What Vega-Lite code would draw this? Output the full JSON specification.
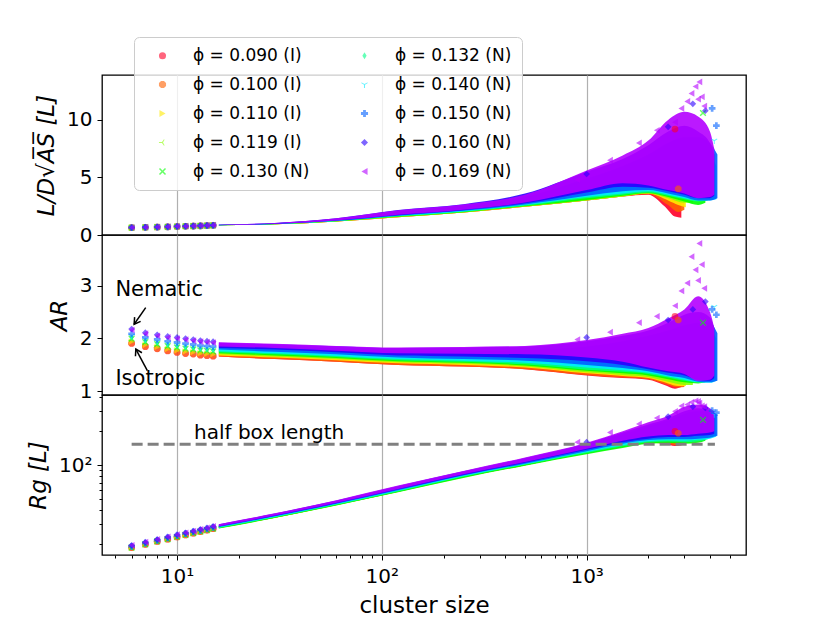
{
"$schema": "https://vega.github.io/schema/vega-lite/v6.json",
"background": "white",
"padding": {"left": 26, "top": 36, "right": 5, "bottom": 5},
"bounds": "flush",
"config": {
  "font": "DejaVu Sans",
  "view": {"stroke": "black", "strokeWidth": 1.3},
  "axis": {"labelFontSize": 20, "titleFontSize": 23, "titleFontWeight": "normal", "labelColor": "black", "titleColor": "black", "tickColor": "black", "tickWidth": 1, "domain": false, "grid": false, "labelPadding": 5, "titlePadding": 8, "tickSize": 5, "labelFont": "DejaVu Sans", "titleFont": "DejaVu Sans", "labelOverlap": false},
  "legend": {"orient": "none", "legendX": 32, "legendY": -38, "columns": 2, "labelFontSize": 17, "labelFont": "DejaVu Sans", "labelColor": "black", "symbolSize": 50, "symbolOpacity": 0.6, "rowPadding": 11, "columnPadding": 36, "padding": 10, "fillColor": "rgba(255,255,255,0.8)", "strokeColor": "#cccccc", "cornerRadius": 5, "labelOffset": 22, "symbolOffset": 10, "labelLimit": 0}
},
"datasets": {
"bands": [
{"p":"0.090 (I)","n":16,"l1":0.84,"l2":0.86,"a1":1.66,"a2":1.71,"r1":27.7,"r2":28.7},
{"p":"0.090 (I)","n":30,"l1":0.93,"l2":0.975,"a1":1.61,"a2":1.67,"r1":34.3,"r2":35.8},
{"p":"0.090 (I)","n":60,"l1":1.18,"l2":1.29,"a1":1.56,"a2":1.63,"r1":44.4,"r2":46.5},
{"p":"0.090 (I)","n":120,"l1":1.55,"l2":1.76,"a1":1.50,"a2":1.57,"r1":58.2,"r2":61.5},
{"p":"0.090 (I)","n":250,"l1":1.95,"l2":2.22,"a1":1.47,"a2":1.55,"r1":78.5,"r2":83},
{"p":"0.090 (I)","n":500,"l1":2.45,"l2":2.8,"a1":1.42,"a2":1.55,"r1":100,"r2":108},
{"p":"0.090 (I)","n":1000,"l1":3.0,"l2":3.7,"a1":1.30,"a2":1.58,"r1":128,"r2":143},
{"p":"0.090 (I)","n":1500,"l1":3.35,"l2":4.2,"a1":1.25,"a2":1.62,"r1":146,"r2":170},
{"p":"0.090 (I)","n":2000,"l1":3.5,"l2":4.4,"a1":1.22,"a2":1.68,"r1":158,"r2":190},
{"p":"0.090 (I)","n":2400,"l1":2.5,"l2":4.2,"a1":1.12,"a2":1.75,"r1":155,"r2":200},
{"p":"0.090 (I)","n":2700,"l1":1.6,"l2":3.6,"a1":1.05,"a2":1.9,"r1":148,"r2":195},
{"p":"0.090 (I)","n":2900,"l1":1.5,"l2":3.0,"a1":1.08,"a2":1.7,"r1":150,"r2":185},
{"p":"0.100 (I)","n":16,"l1":0.84,"l2":0.86,"a1":1.66,"a2":1.72,"r1":27.7,"r2":28.8},
{"p":"0.100 (I)","n":30,"l1":0.93,"l2":0.98,"a1":1.61,"a2":1.68,"r1":34.3,"r2":35.9},
{"p":"0.100 (I)","n":60,"l1":1.18,"l2":1.3,"a1":1.56,"a2":1.64,"r1":44.4,"r2":46.7},
{"p":"0.100 (I)","n":120,"l1":1.55,"l2":1.78,"a1":1.50,"a2":1.58,"r1":58.2,"r2":61.8},
{"p":"0.100 (I)","n":250,"l1":1.95,"l2":2.25,"a1":1.47,"a2":1.56,"r1":78.5,"r2":83.5},
{"p":"0.100 (I)","n":500,"l1":2.45,"l2":2.85,"a1":1.42,"a2":1.56,"r1":100,"r2":109},
{"p":"0.100 (I)","n":1000,"l1":3.0,"l2":3.8,"a1":1.31,"a2":1.6,"r1":128,"r2":144},
{"p":"0.100 (I)","n":1500,"l1":3.35,"l2":4.3,"a1":1.26,"a2":1.65,"r1":146,"r2":172},
{"p":"0.100 (I)","n":2000,"l1":3.55,"l2":4.5,"a1":1.23,"a2":1.7,"r1":158,"r2":195},
{"p":"0.100 (I)","n":2500,"l1":2.6,"l2":4.2,"a1":1.12,"a2":1.75,"r1":155,"r2":205},
{"p":"0.100 (I)","n":2800,"l1":2.0,"l2":3.8,"a1":1.07,"a2":1.8,"r1":150,"r2":200},
{"p":"0.100 (I)","n":3000,"l1":2.2,"l2":3.2,"a1":1.08,"a2":1.6,"r1":152,"r2":190},
{"p":"0.110 (I)","n":16,"l1":0.84,"l2":0.865,"a1":1.68,"a2":1.75,"r1":27.7,"r2":28.8},
{"p":"0.110 (I)","n":30,"l1":0.93,"l2":0.985,"a1":1.64,"a2":1.71,"r1":34.3,"r2":35.9},
{"p":"0.110 (I)","n":60,"l1":1.18,"l2":1.32,"a1":1.59,"a2":1.67,"r1":44.4,"r2":46.7},
{"p":"0.110 (I)","n":120,"l1":1.55,"l2":1.82,"a1":1.53,"a2":1.61,"r1":58.2,"r2":61.8},
{"p":"0.110 (I)","n":250,"l1":1.95,"l2":2.3,"a1":1.50,"a2":1.59,"r1":78.5,"r2":83.5},
{"p":"0.110 (I)","n":500,"l1":2.45,"l2":2.9,"a1":1.45,"a2":1.59,"r1":100,"r2":109},
{"p":"0.110 (I)","n":1000,"l1":3.0,"l2":3.9,"a1":1.34,"a2":1.63,"r1":128,"r2":144},
{"p":"0.110 (I)","n":1500,"l1":3.35,"l2":4.4,"a1":1.29,"a2":1.68,"r1":146,"r2":172},
{"p":"0.110 (I)","n":2000,"l1":3.6,"l2":4.6,"a1":1.25,"a2":1.72,"r1":160,"r2":195},
{"p":"0.110 (I)","n":2500,"l1":3.0,"l2":4.4,"a1":1.15,"a2":1.72,"r1":162,"r2":210},
{"p":"0.110 (I)","n":2800,"l1":2.6,"l2":4.0,"a1":1.1,"a2":1.65,"r1":160,"r2":210},
{"p":"0.110 (I)","n":3050,"l1":2.4,"l2":3.4,"a1":1.1,"a2":1.5,"r1":158,"r2":200},
{"p":"0.119 (I)","n":16,"l1":0.84,"l2":0.87,"a1":1.70,"a2":1.77,"r1":27.6,"r2":28.7},
{"p":"0.119 (I)","n":30,"l1":0.93,"l2":0.99,"a1":1.66,"a2":1.74,"r1":34.2,"r2":35.8},
{"p":"0.119 (I)","n":60,"l1":1.18,"l2":1.34,"a1":1.61,"a2":1.70,"r1":44.2,"r2":46.5},
{"p":"0.119 (I)","n":120,"l1":1.56,"l2":1.86,"a1":1.55,"a2":1.64,"r1":58,"r2":61.5},
{"p":"0.119 (I)","n":250,"l1":1.96,"l2":2.35,"a1":1.52,"a2":1.62,"r1":78,"r2":83},
{"p":"0.119 (I)","n":500,"l1":2.47,"l2":2.95,"a1":1.47,"a2":1.62,"r1":100,"r2":108},
{"p":"0.119 (I)","n":1000,"l1":3.0,"l2":4.0,"a1":1.36,"a2":1.67,"r1":127,"r2":143},
{"p":"0.119 (I)","n":1500,"l1":3.35,"l2":4.6,"a1":1.31,"a2":1.72,"r1":145,"r2":170},
{"p":"0.119 (I)","n":2000,"l1":3.6,"l2":5.0,"a1":1.27,"a2":1.76,"r1":158,"r2":195},
{"p":"0.119 (I)","n":2500,"l1":3.2,"l2":5.2,"a1":1.18,"a2":1.78,"r1":160,"r2":215},
{"p":"0.119 (I)","n":3000,"l1":2.8,"l2":5.0,"a1":1.12,"a2":1.75,"r1":158,"r2":225},
{"p":"0.119 (I)","n":3300,"l1":2.8,"l2":4.5,"a1":1.12,"a2":1.6,"r1":160,"r2":215},
{"p":"0.130 (N)","n":16,"l1":0.84,"l2":0.875,"a1":1.72,"a2":1.80,"r1":27.5,"r2":28.7},
{"p":"0.130 (N)","n":30,"l1":0.935,"l2":1.0,"a1":1.68,"a2":1.77,"r1":34,"r2":35.8},
{"p":"0.130 (N)","n":60,"l1":1.19,"l2":1.36,"a1":1.63,"a2":1.73,"r1":44,"r2":46.5},
{"p":"0.130 (N)","n":120,"l1":1.58,"l2":1.9,"a1":1.57,"a2":1.67,"r1":57.5,"r2":61.5},
{"p":"0.130 (N)","n":250,"l1":1.98,"l2":2.4,"a1":1.54,"a2":1.65,"r1":77,"r2":83},
{"p":"0.130 (N)","n":500,"l1":2.5,"l2":3.0,"a1":1.49,"a2":1.66,"r1":99,"r2":108},
{"p":"0.130 (N)","n":1000,"l1":3.05,"l2":4.2,"a1":1.39,"a2":1.71,"r1":125,"r2":143},
{"p":"0.130 (N)","n":1500,"l1":3.4,"l2":5.0,"a1":1.34,"a2":1.77,"r1":142,"r2":170},
{"p":"0.130 (N)","n":2000,"l1":3.65,"l2":5.6,"a1":1.30,"a2":1.82,"r1":155,"r2":195},
{"p":"0.130 (N)","n":2500,"l1":3.3,"l2":6.0,"a1":1.23,"a2":1.85,"r1":157,"r2":220},
{"p":"0.130 (N)","n":3000,"l1":2.9,"l2":6.2,"a1":1.17,"a2":1.85,"r1":155,"r2":240},
{"p":"0.130 (N)","n":3500,"l1":2.6,"l2":5.8,"a1":1.15,"a2":1.85,"r1":158,"r2":245},
{"p":"0.130 (N)","n":3800,"l1":2.8,"l2":5.0,"a1":1.17,"a2":1.7,"r1":165,"r2":230},
{"p":"0.132 (N)","n":16,"l1":0.845,"l2":0.88,"a1":1.74,"a2":1.82,"r1":27.8,"r2":29},
{"p":"0.132 (N)","n":30,"l1":0.94,"l2":1.01,"a1":1.70,"a2":1.79,"r1":34.5,"r2":36.3},
{"p":"0.132 (N)","n":60,"l1":1.2,"l2":1.38,"a1":1.65,"a2":1.75,"r1":44.7,"r2":47.2},
{"p":"0.132 (N)","n":120,"l1":1.62,"l2":1.95,"a1":1.59,"a2":1.69,"r1":58.5,"r2":62.5},
{"p":"0.132 (N)","n":250,"l1":2.02,"l2":2.45,"a1":1.56,"a2":1.68,"r1":79,"r2":84.5},
{"p":"0.132 (N)","n":500,"l1":2.55,"l2":3.1,"a1":1.51,"a2":1.69,"r1":101,"r2":110},
{"p":"0.132 (N)","n":1000,"l1":3.2,"l2":4.4,"a1":1.41,"a2":1.75,"r1":128,"r2":146},
{"p":"0.132 (N)","n":1500,"l1":3.5,"l2":5.2,"a1":1.37,"a2":1.82,"r1":147,"r2":176},
{"p":"0.132 (N)","n":2000,"l1":3.7,"l2":6.0,"a1":1.33,"a2":1.88,"r1":160,"r2":205},
{"p":"0.132 (N)","n":2500,"l1":3.4,"l2":6.5,"a1":1.26,"a2":1.92,"r1":162,"r2":230},
{"p":"0.132 (N)","n":3000,"l1":3.1,"l2":7.0,"a1":1.2,"a2":1.95,"r1":160,"r2":255},
{"p":"0.132 (N)","n":3500,"l1":2.9,"l2":6.8,"a1":1.17,"a2":2.0,"r1":163,"r2":265},
{"p":"0.132 (N)","n":3900,"l1":3.0,"l2":6.0,"a1":1.18,"a2":1.9,"r1":170,"r2":250},
{"p":"0.140 (N)","n":16,"l1":0.85,"l2":0.885,"a1":1.76,"a2":1.85,"r1":28,"r2":29.3},
{"p":"0.140 (N)","n":30,"l1":0.945,"l2":1.02,"a1":1.72,"a2":1.82,"r1":34.8,"r2":36.6},
{"p":"0.140 (N)","n":60,"l1":1.22,"l2":1.40,"a1":1.67,"a2":1.78,"r1":45,"r2":47.7},
{"p":"0.140 (N)","n":120,"l1":1.65,"l2":2.0,"a1":1.61,"a2":1.72,"r1":59.5,"r2":63.5},
{"p":"0.140 (N)","n":250,"l1":2.05,"l2":2.5,"a1":1.58,"a2":1.72,"r1":80,"r2":86},
{"p":"0.140 (N)","n":500,"l1":2.6,"l2":3.2,"a1":1.54,"a2":1.73,"r1":102,"r2":112},
{"p":"0.140 (N)","n":1000,"l1":3.3,"l2":4.6,"a1":1.45,"a2":1.8,"r1":131,"r2":149},
{"p":"0.140 (N)","n":1500,"l1":3.6,"l2":5.5,"a1":1.40,"a2":1.88,"r1":150,"r2":182},
{"p":"0.140 (N)","n":2000,"l1":3.8,"l2":6.5,"a1":1.35,"a2":1.95,"r1":163,"r2":212},
{"p":"0.140 (N)","n":2500,"l1":3.5,"l2":7.0,"a1":1.28,"a2":2.0,"r1":166,"r2":240},
{"p":"0.140 (N)","n":3000,"l1":3.2,"l2":7.5,"a1":1.22,"a2":2.1,"r1":165,"r2":270},
{"p":"0.140 (N)","n":3500,"l1":3.0,"l2":7.5,"a1":1.17,"a2":2.15,"r1":168,"r2":285},
{"p":"0.140 (N)","n":4000,"l1":3.0,"l2":7.0,"a1":1.16,"a2":2.15,"r1":172,"r2":285},
{"p":"0.140 (N)","n":4300,"l1":3.1,"l2":6.0,"a1":1.2,"a2":2.0,"r1":180,"r2":270},
{"p":"0.150 (N)","n":16,"l1":0.85,"l2":0.89,"a1":1.79,"a2":1.88,"r1":28.3,"r2":29.6},
{"p":"0.150 (N)","n":30,"l1":0.95,"l2":1.03,"a1":1.75,"a2":1.85,"r1":35.2,"r2":37},
{"p":"0.150 (N)","n":60,"l1":1.23,"l2":1.42,"a1":1.70,"a2":1.81,"r1":45.5,"r2":48.2},
{"p":"0.150 (N)","n":120,"l1":1.68,"l2":2.05,"a1":1.64,"a2":1.76,"r1":60,"r2":64.5},
{"p":"0.150 (N)","n":250,"l1":2.1,"l2":2.55,"a1":1.61,"a2":1.76,"r1":81,"r2":87},
{"p":"0.150 (N)","n":500,"l1":2.65,"l2":3.3,"a1":1.58,"a2":1.78,"r1":103,"r2":114},
{"p":"0.150 (N)","n":1000,"l1":3.4,"l2":4.9,"a1":1.50,"a2":1.85,"r1":133,"r2":152},
{"p":"0.150 (N)","n":1500,"l1":3.8,"l2":6.0,"a1":1.44,"a2":1.95,"r1":155,"r2":188},
{"p":"0.150 (N)","n":2000,"l1":3.9,"l2":7.0,"a1":1.38,"a2":2.05,"r1":167,"r2":220},
{"p":"0.150 (N)","n":2500,"l1":3.6,"l2":8.0,"a1":1.3,"a2":2.15,"r1":170,"r2":250},
{"p":"0.150 (N)","n":3000,"l1":3.3,"l2":8.5,"a1":1.25,"a2":2.25,"r1":170,"r2":285},
{"p":"0.150 (N)","n":3500,"l1":3.0,"l2":8.5,"a1":1.18,"a2":2.3,"r1":172,"r2":300},
{"p":"0.150 (N)","n":4000,"l1":3.0,"l2":8.0,"a1":1.17,"a2":2.3,"r1":175,"r2":300},
{"p":"0.150 (N)","n":4350,"l1":3.2,"l2":7.0,"a1":1.2,"a2":2.1,"r1":182,"r2":280},
{"p":"0.160 (N)","n":16,"l1":0.855,"l2":0.90,"a1":1.82,"a2":1.92,"r1":28.6,"r2":29.9},
{"p":"0.160 (N)","n":30,"l1":0.96,"l2":1.05,"a1":1.79,"a2":1.89,"r1":35.5,"r2":37.3},
{"p":"0.160 (N)","n":60,"l1":1.25,"l2":1.46,"a1":1.74,"a2":1.855,"r1":46,"r2":48.7},
{"p":"0.160 (N)","n":120,"l1":1.72,"l2":2.17,"a1":1.68,"a2":1.82,"r1":61,"r2":65.5},
{"p":"0.160 (N)","n":250,"l1":2.15,"l2":2.68,"a1":1.66,"a2":1.83,"r1":82,"r2":88.5},
{"p":"0.160 (N)","n":500,"l1":2.75,"l2":3.6,"a1":1.63,"a2":1.85,"r1":105,"r2":116},
{"p":"0.160 (N)","n":1000,"l1":3.7,"l2":5.5,"a1":1.57,"a2":1.95,"r1":137,"r2":156},
{"p":"0.160 (N)","n":1500,"l1":4.2,"l2":6.6,"a1":1.50,"a2":2.05,"r1":160,"r2":195},
{"p":"0.160 (N)","n":2000,"l1":4.1,"l2":7.8,"a1":1.42,"a2":2.15,"r1":172,"r2":230},
{"p":"0.160 (N)","n":2500,"l1":3.8,"l2":9.0,"a1":1.35,"a2":2.3,"r1":178,"r2":260},
{"p":"0.160 (N)","n":3000,"l1":3.5,"l2":9.5,"a1":1.3,"a2":2.45,"r1":178,"r2":300},
{"p":"0.160 (N)","n":3500,"l1":3.2,"l2":9.0,"a1":1.22,"a2":2.5,"r1":182,"r2":320},
{"p":"0.160 (N)","n":4000,"l1":3.2,"l2":8.0,"a1":1.2,"a2":2.4,"r1":185,"r2":310},
{"p":"0.160 (N)","n":4200,"l1":3.4,"l2":7.0,"a1":1.25,"a2":2.2,"r1":190,"r2":290},
{"p":"0.169 (N)","n":16,"l1":0.86,"l2":0.90,"a1":1.85,"a2":1.93,"r1":28.8,"r2":30},
{"p":"0.169 (N)","n":30,"l1":0.97,"l2":1.05,"a1":1.82,"a2":1.90,"r1":35.8,"r2":37.5},
{"p":"0.169 (N)","n":60,"l1":1.27,"l2":1.45,"a1":1.77,"a2":1.86,"r1":46.5,"r2":49},
{"p":"0.169 (N)","n":120,"l1":1.76,"l2":2.15,"a1":1.72,"a2":1.83,"r1":61.5,"r2":66},
{"p":"0.169 (N)","n":250,"l1":2.2,"l2":2.65,"a1":1.71,"a2":1.84,"r1":83,"r2":89},
{"p":"0.169 (N)","n":500,"l1":2.82,"l2":3.5,"a1":1.70,"a2":1.86,"r1":107,"r2":117},
{"p":"0.169 (N)","n":1000,"l1":3.9,"l2":5.6,"a1":1.64,"a2":1.97,"r1":140,"r2":158},
{"p":"0.169 (N)","n":1500,"l1":4.5,"l2":6.9,"a1":1.56,"a2":2.09,"r1":165,"r2":200},
{"p":"0.169 (N)","n":2000,"l1":4.3,"l2":8.2,"a1":1.45,"a2":2.2,"r1":180,"r2":240},
{"p":"0.169 (N)","n":2500,"l1":3.9,"l2":10.0,"a1":1.38,"a2":2.38,"r1":185,"r2":275},
{"p":"0.169 (N)","n":3000,"l1":3.6,"l2":10.7,"a1":1.33,"a2":2.55,"r1":185,"r2":330},
{"p":"0.169 (N)","n":3500,"l1":3.2,"l2":10.3,"a1":1.2,"a2":2.8,"r1":190,"r2":345},
{"p":"0.169 (N)","n":4000,"l1":3.3,"l2":9.0,"a1":1.22,"a2":2.5,"r1":195,"r2":320},
{"p":"0.169 (N)","n":4200,"l1":3.5,"l2":7.5,"a1":1.3,"a2":2.2,"r1":200,"r2":300}
],
"pts": [
{"p":"0.090 (I)","n":6,"l":0.64,"a":1.905,"r":18.6},
{"p":"0.090 (I)","n":7,"l":0.67,"a":1.845,"r":19.9},
{"p":"0.090 (I)","n":8,"l":0.69,"a":1.805,"r":21.1},
{"p":"0.090 (I)","n":9,"l":0.71,"a":1.765,"r":22.1},
{"p":"0.090 (I)","n":10,"l":0.74,"a":1.735,"r":23.1},
{"p":"0.090 (I)","n":11,"l":0.76,"a":1.715,"r":24.1},
{"p":"0.090 (I)","n":12,"l":0.78,"a":1.705,"r":25.0},
{"p":"0.090 (I)","n":13,"l":0.80,"a":1.685,"r":25.8},
{"p":"0.090 (I)","n":14,"l":0.82,"a":1.675,"r":26.6},
{"p":"0.090 (I)","n":15,"l":0.84,"a":1.665,"r":27.4},
{"p":"0.100 (I)","n":6,"l":0.64,"a":1.91,"r":18.6},
{"p":"0.100 (I)","n":7,"l":0.67,"a":1.85,"r":19.9},
{"p":"0.100 (I)","n":8,"l":0.69,"a":1.81,"r":21.1},
{"p":"0.100 (I)","n":9,"l":0.71,"a":1.77,"r":22.1},
{"p":"0.100 (I)","n":10,"l":0.74,"a":1.74,"r":23.1},
{"p":"0.100 (I)","n":11,"l":0.76,"a":1.72,"r":24.1},
{"p":"0.100 (I)","n":12,"l":0.78,"a":1.71,"r":25.0},
{"p":"0.100 (I)","n":13,"l":0.80,"a":1.69,"r":25.8},
{"p":"0.100 (I)","n":14,"l":0.82,"a":1.68,"r":26.6},
{"p":"0.100 (I)","n":15,"l":0.84,"a":1.67,"r":27.4},
{"p":"0.110 (I)","n":6,"l":0.64,"a":1.942,"r":18.6},
{"p":"0.110 (I)","n":7,"l":0.67,"a":1.881,"r":19.9},
{"p":"0.110 (I)","n":8,"l":0.69,"a":1.841,"r":21.1},
{"p":"0.110 (I)","n":9,"l":0.71,"a":1.802,"r":22.1},
{"p":"0.110 (I)","n":10,"l":0.74,"a":1.774,"r":23.1},
{"p":"0.110 (I)","n":11,"l":0.76,"a":1.754,"r":24.1},
{"p":"0.110 (I)","n":12,"l":0.78,"a":1.742,"r":25.0},
{"p":"0.110 (I)","n":13,"l":0.80,"a":1.722,"r":25.8},
{"p":"0.110 (I)","n":14,"l":0.82,"a":1.712,"r":26.6},
{"p":"0.110 (I)","n":15,"l":0.84,"a":1.702,"r":27.4},
{"p":"0.119 (I)","n":6,"l":0.64,"a":1.969,"r":18.6},
{"p":"0.119 (I)","n":7,"l":0.67,"a":1.907,"r":19.9},
{"p":"0.119 (I)","n":8,"l":0.69,"a":1.867,"r":21.1},
{"p":"0.119 (I)","n":9,"l":0.71,"a":1.829,"r":22.1},
{"p":"0.119 (I)","n":10,"l":0.74,"a":1.802,"r":23.1},
{"p":"0.119 (I)","n":11,"l":0.76,"a":1.782,"r":24.1},
{"p":"0.119 (I)","n":12,"l":0.78,"a":1.769,"r":25.0},
{"p":"0.119 (I)","n":13,"l":0.80,"a":1.749,"r":25.8},
{"p":"0.119 (I)","n":14,"l":0.82,"a":1.739,"r":26.6},
{"p":"0.119 (I)","n":15,"l":0.84,"a":1.729,"r":27.4},
{"p":"0.130 (N)","n":6,"l":0.64,"a":1.996,"r":18.6},
{"p":"0.130 (N)","n":7,"l":0.67,"a":1.933,"r":19.9},
{"p":"0.130 (N)","n":8,"l":0.69,"a":1.893,"r":21.1},
{"p":"0.130 (N)","n":9,"l":0.71,"a":1.856,"r":22.1},
{"p":"0.130 (N)","n":10,"l":0.74,"a":1.83,"r":23.1},
{"p":"0.130 (N)","n":11,"l":0.76,"a":1.81,"r":24.1},
{"p":"0.130 (N)","n":12,"l":0.78,"a":1.796,"r":25.0},
{"p":"0.130 (N)","n":13,"l":0.80,"a":1.776,"r":25.8},
{"p":"0.130 (N)","n":14,"l":0.82,"a":1.766,"r":26.6},
{"p":"0.130 (N)","n":15,"l":0.84,"a":1.756,"r":27.4},
{"p":"0.132 (N)","n":6,"l":0.64,"a":2.018,"r":19.1},
{"p":"0.132 (N)","n":7,"l":0.67,"a":1.954,"r":20.4},
{"p":"0.132 (N)","n":8,"l":0.69,"a":1.914,"r":21.6},
{"p":"0.132 (N)","n":9,"l":0.71,"a":1.878,"r":22.7},
{"p":"0.132 (N)","n":10,"l":0.74,"a":1.852,"r":23.7},
{"p":"0.132 (N)","n":11,"l":0.76,"a":1.832,"r":24.7},
{"p":"0.132 (N)","n":12,"l":0.78,"a":1.818,"r":25.6},
{"p":"0.132 (N)","n":13,"l":0.80,"a":1.798,"r":26.5},
{"p":"0.132 (N)","n":14,"l":0.82,"a":1.788,"r":27.3},
{"p":"0.132 (N)","n":15,"l":0.84,"a":1.778,"r":28.1},
{"p":"0.140 (N)","n":6,"l":0.64,"a":2.05,"r":19.1},
{"p":"0.140 (N)","n":7,"l":0.67,"a":1.985,"r":20.4},
{"p":"0.140 (N)","n":8,"l":0.69,"a":1.945,"r":21.6},
{"p":"0.140 (N)","n":9,"l":0.71,"a":1.91,"r":22.7},
{"p":"0.140 (N)","n":10,"l":0.74,"a":1.886,"r":23.7},
{"p":"0.140 (N)","n":11,"l":0.76,"a":1.866,"r":24.7},
{"p":"0.140 (N)","n":12,"l":0.78,"a":1.85,"r":25.6},
{"p":"0.140 (N)","n":13,"l":0.80,"a":1.83,"r":26.5},
{"p":"0.140 (N)","n":14,"l":0.82,"a":1.82,"r":27.3},
{"p":"0.140 (N)","n":15,"l":0.84,"a":1.81,"r":28.1},
{"p":"0.150 (N)","n":6,"l":0.64,"a":2.088,"r":19.1},
{"p":"0.150 (N)","n":7,"l":0.67,"a":2.022,"r":20.4},
{"p":"0.150 (N)","n":8,"l":0.69,"a":1.982,"r":21.6},
{"p":"0.150 (N)","n":9,"l":0.71,"a":1.948,"r":22.7},
{"p":"0.150 (N)","n":10,"l":0.74,"a":1.925,"r":23.7},
{"p":"0.150 (N)","n":11,"l":0.76,"a":1.905,"r":24.7},
{"p":"0.150 (N)","n":12,"l":0.78,"a":1.888,"r":25.6},
{"p":"0.150 (N)","n":13,"l":0.80,"a":1.868,"r":26.5},
{"p":"0.150 (N)","n":14,"l":0.82,"a":1.858,"r":27.3},
{"p":"0.150 (N)","n":15,"l":0.84,"a":1.848,"r":28.1},
{"p":"0.160 (N)","n":6,"l":0.65,"a":2.18,"r":19.5},
{"p":"0.160 (N)","n":7,"l":0.68,"a":2.11,"r":20.8},
{"p":"0.160 (N)","n":8,"l":0.70,"a":2.07,"r":22.0},
{"p":"0.160 (N)","n":9,"l":0.72,"a":2.04,"r":23.2},
{"p":"0.160 (N)","n":10,"l":0.75,"a":2.02,"r":24.2},
{"p":"0.160 (N)","n":11,"l":0.77,"a":2.0,"r":25.2},
{"p":"0.160 (N)","n":12,"l":0.79,"a":1.98,"r":26.1},
{"p":"0.160 (N)","n":13,"l":0.81,"a":1.96,"r":27.0},
{"p":"0.160 (N)","n":14,"l":0.83,"a":1.95,"r":27.8},
{"p":"0.160 (N)","n":15,"l":0.85,"a":1.94,"r":28.7},
{"p":"0.169 (N)","n":6,"l":0.65,"a":2.161,"r":19.5},
{"p":"0.169 (N)","n":7,"l":0.68,"a":2.092,"r":20.8},
{"p":"0.169 (N)","n":8,"l":0.70,"a":2.052,"r":22.0},
{"p":"0.169 (N)","n":9,"l":0.72,"a":2.021,"r":23.2},
{"p":"0.169 (N)","n":10,"l":0.75,"a":2.0,"r":24.2},
{"p":"0.169 (N)","n":11,"l":0.77,"a":1.98,"r":25.2},
{"p":"0.169 (N)","n":12,"l":0.79,"a":1.961,"r":26.1},
{"p":"0.169 (N)","n":13,"l":0.81,"a":1.941,"r":27.0},
{"p":"0.169 (N)","n":14,"l":0.83,"a":1.931,"r":27.8},
{"p":"0.169 (N)","n":15,"l":0.85,"a":1.921,"r":28.7},
{"p":"0.090 (I)","n":2700,"l":9.2,"a":2.42,"r":200},
{"p":"0.100 (I)","n":2800,"l":4.0,"a":2.35,"r":192},
{"p":"0.130 (N)","n":3700,"l":10.6,"a":2.3,"r":252},
{"p":"0.140 (N)","n":4200,"l":8.2,"a":2.6,"r":282},
{"p":"0.150 (N)","n":4100,"l":11.0,"a":2.55,"r":305},
{"p":"0.150 (N)","n":4300,"l":9.5,"a":2.45,"r":292},
{"p":"0.160 (N)","n":1000,"l":5.3,"a":2.02,"r":160},
{"p":"0.160 (N)","n":2500,"l":9.4,"a":2.35,"r":270},
{"p":"0.160 (N)","n":3300,"l":11.4,"a":2.55,"r":330},
{"p":"0.160 (N)","n":3800,"l":10.8,"a":2.7,"r":322},
{"p":"0.169 (N)","n":900,"l":4.8,"a":1.98,"r":160},
{"p":"0.169 (N)","n":1300,"l":6.5,"a":2.12,"r":195},
{"p":"0.169 (N)","n":1800,"l":8.0,"a":2.3,"r":232},
{"p":"0.169 (N)","n":2200,"l":9.1,"a":2.42,"r":262},
{"p":"0.169 (N)","n":2700,"l":9.8,"a":2.62,"r":300},
{"p":"0.169 (N)","n":2900,"l":11.0,"a":2.9,"r":335},
{"p":"0.169 (N)","n":3100,"l":11.6,"a":3.05,"r":345},
{"p":"0.169 (N)","n":3250,"l":12.3,"a":3.55,"r":362},
{"p":"0.169 (N)","n":3400,"l":12.9,"a":3.3,"r":372},
{"p":"0.169 (N)","n":3550,"l":13.3,"a":3.8,"r":355},
{"p":"0.169 (N)","n":3650,"l":12.0,"a":3.4,"r":335},
{"p":"0.169 (N)","n":3500,"l":11.8,"a":3.1,"r":368},
{"p":"0.169 (N)","n":3750,"l":11.2,"a":2.95,"r":330}
]
},
"spacing": 0,
"vconcat": [
{
  "width": 644, "height": 160,
  "layer": [
    {"data": {"name": "bands"}, "mark": {"type": "area", "opacity": 0.9, "interpolate": "monotone", "orient": "vertical"},
     "encoding": {
       "x": {"field": "n", "type": "quantitative", "scale": {"type": "log", "domain": [4.3, 6000], "nice": false}, "axis": {"values": [10, 100, 1000], "labels": false, "ticks": false, "title": null, "grid": true, "gridColor": "#b0b0b0", "gridWidth": 1.2}},
       "y": {"field": "l1", "type": "quantitative", "scale": {"domain": [0, 13.9], "nice": false, "zero": false}, "axis": {"values": [0, 5, 10], "title": "L/D√A̅S̅ [L]", "titleFontStyle": "italic"}},
       "y2": {"field": "l2"},
       "color": {"field": "p", "type": "nominal", "scale": {"domain": ["0.090 (I)", "0.100 (I)", "0.110 (I)", "0.119 (I)", "0.130 (N)", "0.132 (N)", "0.140 (N)", "0.150 (N)", "0.160 (N)", "0.169 (N)"], "range": ["#ff0029", "#ff6100", "#ffeb00", "#8aff00", "#00ff00", "#00ff8a", "#00ebff", "#0061ff", "#2900ff", "#b400ff"]}, "legend": {"title": null, "labelExpr": "'ϕ = ' + datum.label"}}
     }},
    {"data": {"name": "pts"}, "mark": {"type": "point", "filled": true, "opacity": 0.6, "size": 45},
     "encoding": {
       "x": {"field": "n", "type": "quantitative"},
       "y": {"field": "l", "type": "quantitative"},
       "color": {"field": "p", "type": "nominal", "legend": {"title": null, "labelExpr": "'ϕ = ' + datum.label"}},
       "shape": {"field": "p", "type": "nominal", "scale": {"domain": ["0.090 (I)", "0.100 (I)", "0.110 (I)", "0.119 (I)", "0.130 (N)", "0.132 (N)", "0.140 (N)", "0.150 (N)", "0.160 (N)", "0.169 (N)"], "range": ["circle", "M-0.41,-1L0.41,-1L1,-0.41L1,0.41L0.41,1L-0.41,1L-1,0.41L-1,-0.41Z", "triangle-right", "M-1,-0.15L-0.15,-0.15L0.42,-0.95L0.58,-0.8L0.15,0L0.58,0.8L0.42,0.95L-0.15,0.15L-1,0.15Z", "M-1,-0.7L-0.7,-1L0,-0.3L0.7,-1L1,-0.7L0.3,0L1,0.7L0.7,1L0,0.3L-0.7,1L-1,0.7L-0.3,0Z", "M0,-1L0.6,0L0,1L-0.6,0Z", "M-0.15,1L0.15,1L0.15,0.1L0.95,-0.4L0.8,-0.6L0,-0.15L-0.8,-0.6L-0.95,-0.4L-0.15,0.1Z", "cross", "diamond", "triangle-left"]}, "legend": {"title": null, "labelExpr": "'ϕ = ' + datum.label"}}
     }}
  ]
},
{
  "width": 644, "height": 160,
  "layer": [
    {"data": {"name": "bands"}, "mark": {"type": "area", "opacity": 0.9, "interpolate": "monotone", "orient": "vertical"},
     "encoding": {
       "x": {"field": "n", "type": "quantitative", "scale": {"type": "log", "domain": [4.3, 6000], "nice": false}, "axis": {"values": [10, 100, 1000], "labels": false, "ticks": false, "title": null, "grid": true, "gridColor": "#b0b0b0", "gridWidth": 1.2}},
       "y": {"field": "a1", "type": "quantitative", "scale": {"domain": [0.93, 3.96], "nice": false, "zero": false}, "axis": {"values": [1, 2, 3], "title": "AR", "titleFontStyle": "italic"}},
       "y2": {"field": "a2"},
       "color": {"field": "p", "type": "nominal"}
     }},
    {"data": {"name": "pts"}, "mark": {"type": "point", "filled": true, "opacity": 0.6, "size": 45},
     "encoding": {
       "x": {"field": "n", "type": "quantitative"},
       "y": {"field": "a", "type": "quantitative"},
       "color": {"field": "p", "type": "nominal"},
       "shape": {"field": "p", "type": "nominal"}
     }},
    {"data": {"values": [{"n": 5.0, "a": 2.91, "t": "Nematic"}, {"n": 5.0, "a": 1.23, "t": "Isotropic"}]},
     "mark": {"type": "text", "align": "left", "baseline": "middle", "fontSize": 21, "color": "black"},
     "encoding": {"x": {"field": "n", "type": "quantitative"}, "y": {"field": "a", "type": "quantitative"}, "text": {"field": "t"}}},
    {"data": {"values": [{"n1": 7.03, "a1": 2.585, "n2": 6.17, "a2": 2.27}, {"n1": 7.16, "a1": 1.39, "n2": 6.29, "a2": 1.80}]},
     "mark": {"type": "rule", "color": "black", "strokeWidth": 1.5},
     "encoding": {"x": {"field": "n1", "type": "quantitative"}, "x2": {"field": "n2"}, "y": {"field": "a1", "type": "quantitative"}, "y2": {"field": "a2"}}},
    {"data": {"values": [{"n": 6.17, "a": 2.27}]},
     "mark": {"type": "point", "shape": "M-0.6,1L0,0L0.6,1", "filled": false, "stroke": "black", "strokeWidth": 1.5, "size": 150, "angle": 215, "opacity": 1},
     "encoding": {"x": {"field": "n", "type": "quantitative"}, "y": {"field": "a", "type": "quantitative"}}},
    {"data": {"values": [{"n": 6.29, "a": 1.80}]},
     "mark": {"type": "point", "shape": "M-0.6,1L0,0L0.6,1", "filled": false, "stroke": "black", "strokeWidth": 1.5, "size": 150, "angle": 332, "opacity": 1},
     "encoding": {"x": {"field": "n", "type": "quantitative"}, "y": {"field": "a", "type": "quantitative"}}}
  ]
},
{
  "width": 644, "height": 160,
  "layer": [
    {"data": {"name": "bands"}, "mark": {"type": "area", "opacity": 0.9, "interpolate": "monotone", "orient": "vertical"},
     "encoding": {
       "x": {"field": "n", "type": "quantitative", "scale": {"type": "log", "domain": [4.3, 6000], "nice": false},
             "axis": {"values": [5, 6, 7, 8, 9, 10, 20, 30, 40, 50, 60, 70, 80, 90, 100, 200, 300, 400, 500, 600, 700, 800, 900, 1000, 2000, 3000, 4000, 5000],
                      "labelExpr": "datum.value == 10 ? '10¹' : datum.value == 100 ? '10²' : datum.value == 1000 ? '10³' : ''",
                      "tickSize": {"condition": {"test": "datum.value == 10 || datum.value == 100 || datum.value == 1000", "value": 5}, "value": 3},
                      "grid": true, "gridColor": "#b0b0b0", "gridWidth": 1.2,
                      "gridOpacity": {"condition": {"test": "datum.value == 10 || datum.value == 100 || datum.value == 1000", "value": 1}, "value": 0},
                      "title": "cluster size", "labelPadding": 6}},
       "y": {"field": "r1", "type": "quantitative", "scale": {"type": "log", "domain": [16, 419], "nice": false}, "axis": {"values": [20, 30, 40, 50, 60, 70, 80, 90, 100, 200, 300, 400], "labelExpr": "datum.value == 100 ? '10²' : ''", "tickSize": {"condition": {"test": "datum.value == 100", "value": 5}, "value": 3}, "title": "Rg [L]", "titleFontStyle": "italic"}},
       "y2": {"field": "r2"},
       "color": {"field": "p", "type": "nominal"}
     }},
    {"data": {"name": "pts"}, "mark": {"type": "point", "filled": true, "opacity": 0.6, "size": 45},
     "encoding": {
       "x": {"field": "n", "type": "quantitative"},
       "y": {"field": "r", "type": "quantitative"},
       "color": {"field": "p", "type": "nominal"},
       "shape": {"field": "p", "type": "nominal"}
     }},
    {"data": {"values": [{"n1": 6, "n2": 4230, "r": 153}]},
     "mark": {"type": "rule", "color": "#808080", "strokeWidth": 3, "strokeDash": [11, 5]},
     "encoding": {"x": {"field": "n1", "type": "quantitative"}, "x2": {"field": "n2"}, "y": {"field": "r", "type": "quantitative"}}},
    {"data": {"values": [{"n": 12.1, "r": 170, "t": "half box length"}]},
     "mark": {"type": "text", "align": "left", "baseline": "alphabetic", "fontSize": 20, "color": "black"},
     "encoding": {"x": {"field": "n", "type": "quantitative"}, "y": {"field": "r", "type": "quantitative"}, "text": {"field": "t"}}}
  ]
}
]
}
